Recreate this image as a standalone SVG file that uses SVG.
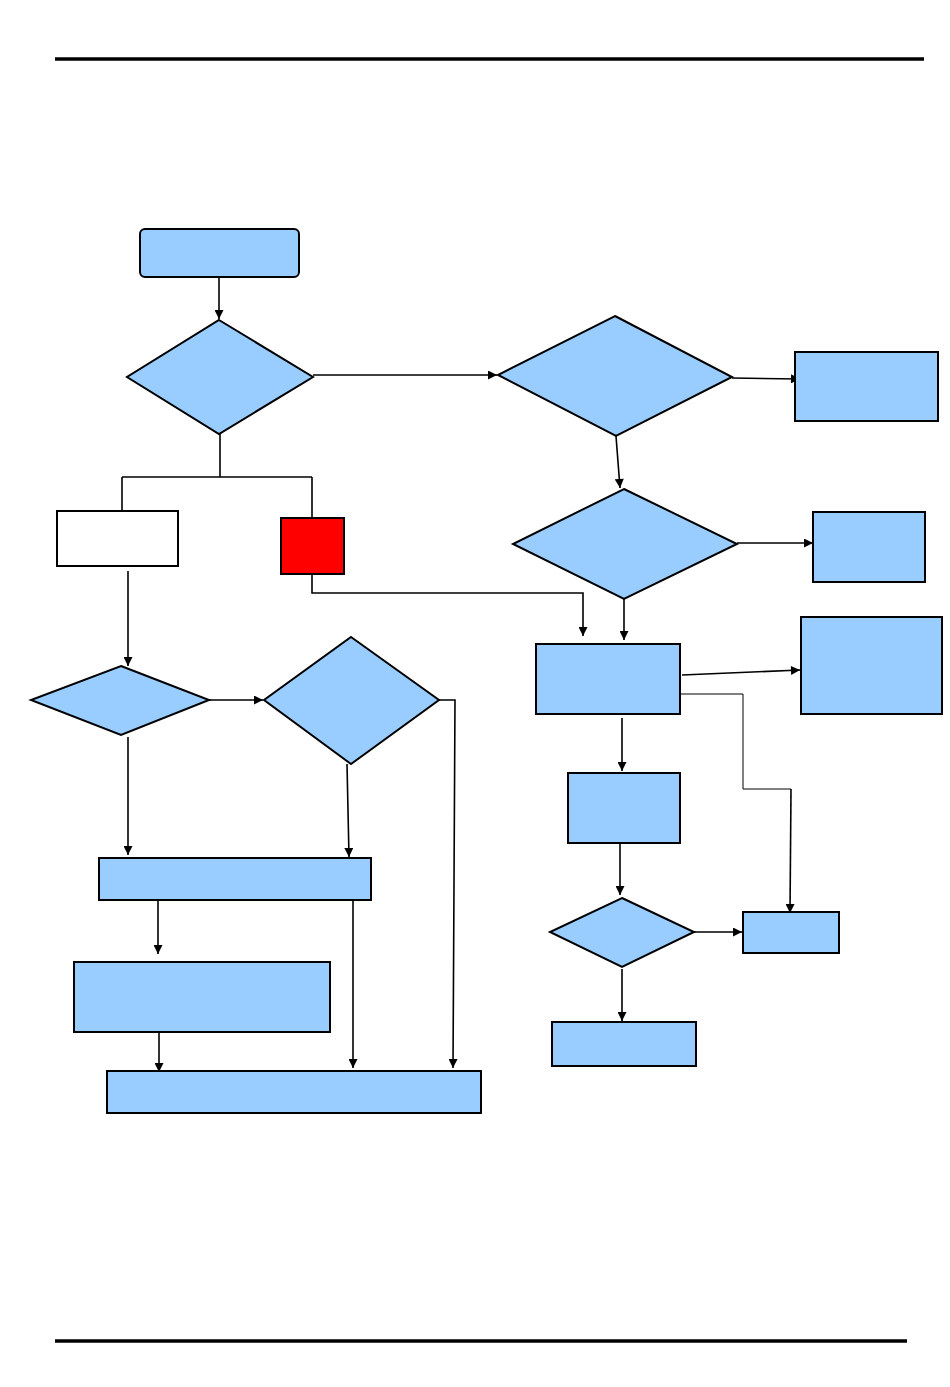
<svg xmlns="http://www.w3.org/2000/svg" width="950" height="1387" viewBox="0 0 950 1387">
<style>
.n{fill:#99ccff;stroke:#000;stroke-width:2}
.w{fill:#fff;stroke:#000;stroke-width:2}
.r{fill:#ff0000;stroke:#000;stroke-width:2}
.c{fill:none;stroke:#000;stroke-width:1.6}
.t{fill:none;stroke:#000;stroke-width:1}
.rule{stroke:#000;stroke-width:3.5}
</style>
<defs>
<marker id="a" viewBox="0 0 10 10" refX="10" refY="5" markerWidth="11" markerHeight="9" markerUnits="userSpaceOnUse" orient="auto">
<path d="M0,0L10,5L0,10z" fill="#000"/>
</marker>
</defs>
<line class="rule" x1="55" y1="59" x2="924" y2="59"/>
<line class="rule" x1="55" y1="1341" x2="907" y2="1341"/>
<g id="connectors">
<path class="c" d="M219,278V319" marker-end="url(#a)"/>
<path class="c" d="M313,375H497" marker-end="url(#a)"/>
<path class="c" d="M220,434V477M122,477H312M122,477V511M312,477V518"/>
<path class="c" d="M312,574V593H583V636" marker-end="url(#a)"/>
<path class="c" d="M732,378L800,379" marker-end="url(#a)"/>
<path class="c" d="M616,436L620,488" marker-end="url(#a)"/>
<path class="c" d="M737,543H813" marker-end="url(#a)"/>
<path class="c" d="M624,599V640" marker-end="url(#a)"/>
<path class="c" d="M682,675L800,670" marker-end="url(#a)"/>
<path class="t" d="M680,694H743V789H791"/>
<path class="c" d="M791,789L790,913" marker-end="url(#a)"/>
<path class="c" d="M622,718V771" marker-end="url(#a)"/>
<path class="c" d="M620,843V895" marker-end="url(#a)"/>
<path class="c" d="M694,932H742" marker-end="url(#a)"/>
<path class="c" d="M622,969V1021" marker-end="url(#a)"/>
<path class="c" d="M128,571V666" marker-end="url(#a)"/>
<path class="c" d="M209,700H263" marker-end="url(#a)"/>
<path class="c" d="M439,700H455L453,1068" marker-end="url(#a)"/>
<path class="c" d="M128,737V855" marker-end="url(#a)"/>
<path class="c" d="M347,764L349,857" marker-end="url(#a)"/>
<path class="c" d="M158,900V954" marker-end="url(#a)"/>
<path class="c" d="M353,900V1068" marker-end="url(#a)"/>
<path class="c" d="M159,1032V1072" marker-end="url(#a)"/>
</g>
<g id="start"><rect class="n" x="140" y="229" width="159" height="48" rx="5"/></g>
<g id="d1"><polygon class="n" points="219,320 313,377 219,434 127,377"/></g>
<g id="white"><rect class="w" x="57" y="511" width="121" height="55"/></g>
<g id="red"><rect class="r" x="281" y="518" width="63" height="56"/></g>
<g id="d2"><polygon class="n" points="615,316 732,377 616,436 498,375"/></g>
<g id="boxA"><rect class="n" x="795" y="352" width="143" height="69"/></g>
<g id="d3"><polygon class="n" points="624,489 737,544 624,599 513,544"/></g>
<g id="boxB"><rect class="n" x="813" y="512" width="112" height="70"/></g>
<g id="boxC"><rect class="n" x="536" y="644" width="144" height="70"/></g>
<g id="boxD"><rect class="n" x="801" y="617" width="141" height="97"/></g>
<g id="boxE"><rect class="n" x="568" y="773" width="112" height="70"/></g>
<g id="d4"><polygon class="n" points="622,898 694,932 622,967 550,932"/></g>
<g id="boxF"><rect class="n" x="743" y="912" width="96" height="41"/></g>
<g id="boxG"><rect class="n" x="552" y="1022" width="144" height="44"/></g>
<g id="d5"><polygon class="n" points="121,666 209,700 121,735 31,700"/></g>
<g id="d6"><polygon class="n" points="351,637 439,700 351,764 264,700"/></g>
<g id="boxH"><rect class="n" x="99" y="858" width="272" height="42"/></g>
<g id="boxI"><rect class="n" x="74" y="962" width="256" height="70"/></g>
<g id="boxJ"><rect class="n" x="107" y="1071" width="374" height="42"/></g>
</svg>
